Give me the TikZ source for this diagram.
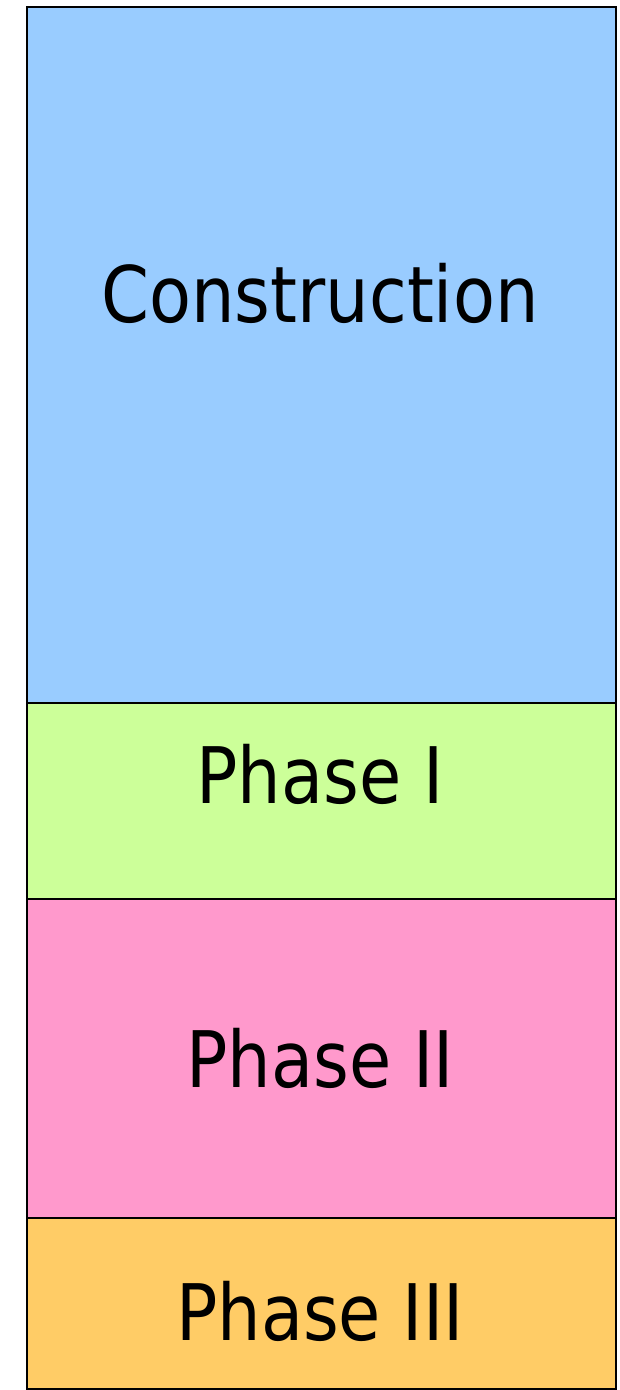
\documentclass[tikz,border=0pt]{standalone}
\usepackage{fontspec}
\setmainfont{DejaVu Sans}[FakeStretch=0.88]
\usepackage{xcolor}
\usepackage{tikz}
\usetikzlibrary{positioning}

\definecolor{constrblue}{HTML}{99CCFF}
\definecolor{phaseagreen}{HTML}{CCFF99}
\definecolor{phasebpink}{HTML}{FF99CC}
\definecolor{phasecorange}{HTML}{FFCC66}

\begin{document}
\begin{tikzpicture}[
    x=1pt, y=-1pt,
    font=\fontsize{78}{90}\selectfont,
    band/.style={rectangle, draw, line width=1.6pt, minimum width=589pt, inner sep=0pt, anchor=north west},
    lbl/.style={anchor=base, inner sep=0pt}
]
\useasboundingbox (0,0) rectangle (619,1390);
% Stacked bands, top-down
\node[band, fill=constrblue,   minimum height=696pt] (constr) at (26,6)    {};
\node[band, fill=phaseagreen,  minimum height=196pt] (phasea) at (26,702)  {};
\node[band, fill=phasebpink,   minimum height=319pt] (phaseb) at (26,898)  {};
\node[band, fill=phasecorange, minimum height=171pt] (phasec) at (26,1217) {};
% Labels
\node[lbl] (constrtxt) at (320,322)  {Construction};
\node[lbl] (phaseatxt) at (320,803)  {Phase I};
\node[lbl] (phasebtxt) at (320,1087) {Phase II};
\node[lbl] (phasectxt) at (320,1340) {Phase III};
\end{tikzpicture}
\end{document}
